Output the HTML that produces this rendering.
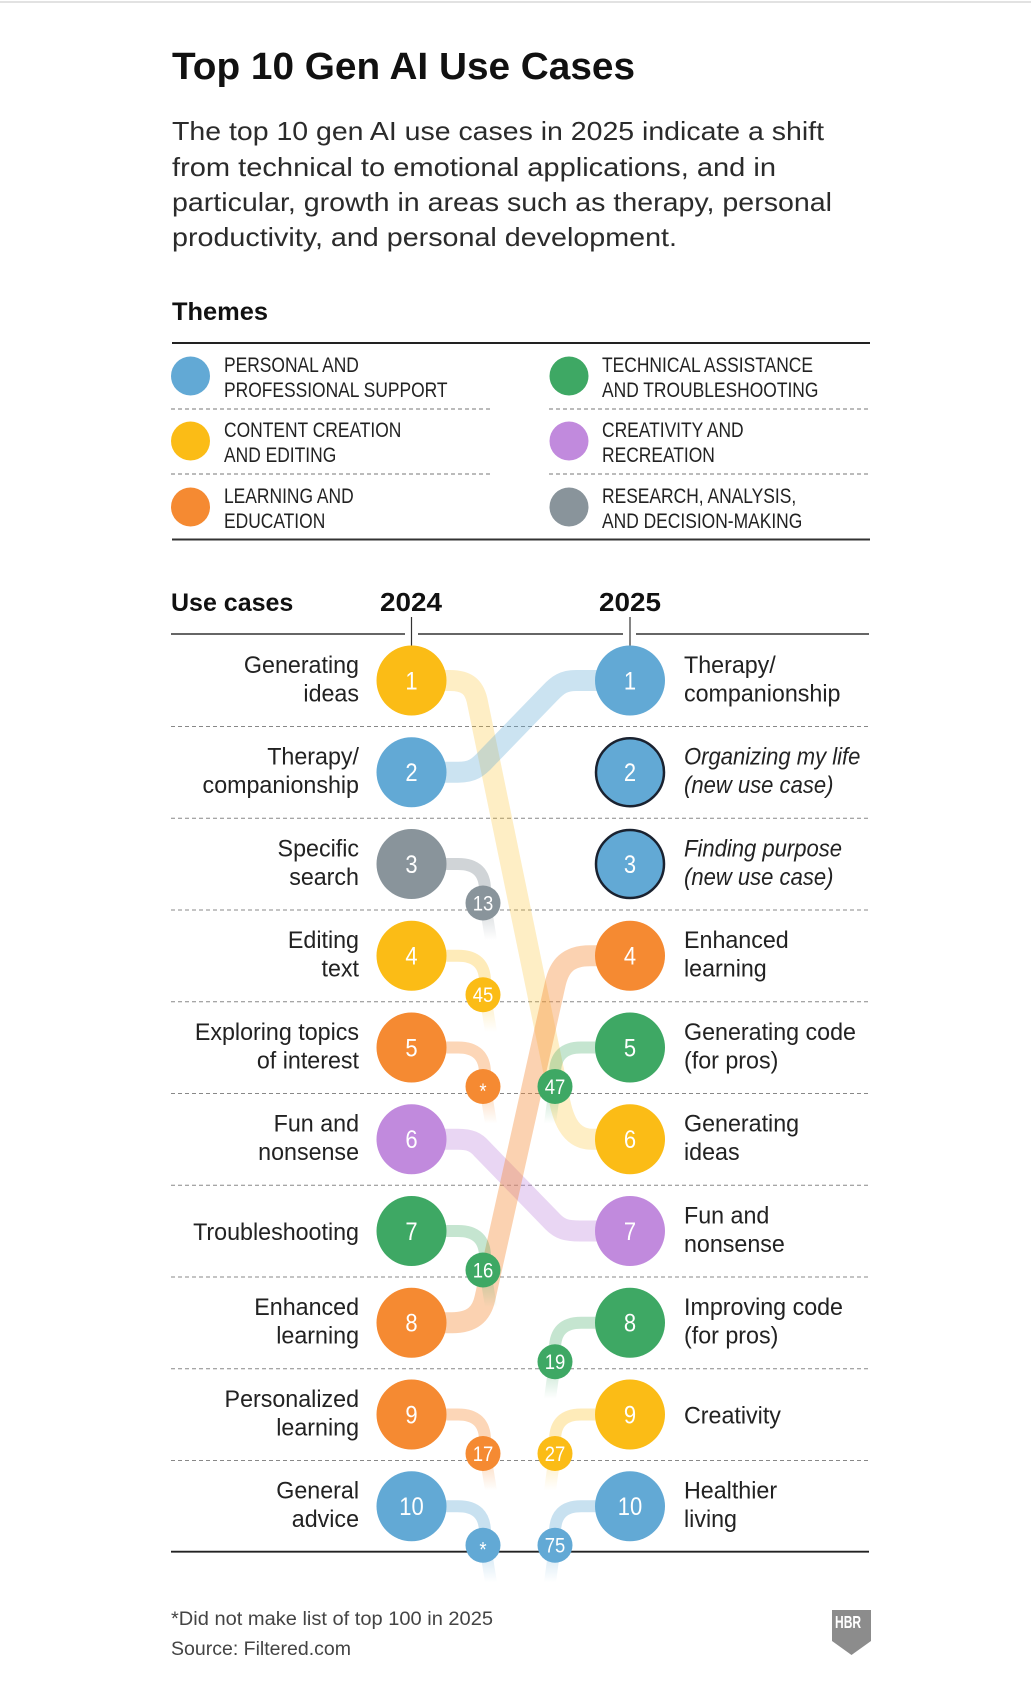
<!DOCTYPE html>
<html><head><meta charset="utf-8">
<style>
html,body{margin:0;padding:0;background:#fff;}
svg{display:block;}
text{font-family:"Liberation Sans",sans-serif;}
</style></head>
<body>
<svg width="1031" height="1686" viewBox="0 0 1031 1686" xmlns="http://www.w3.org/2000/svg">
<defs>
<linearGradient id="tY" x1="0" y1="0" x2="0" y2="1"><stop offset="0" stop-color="#fbbc16" stop-opacity="0.3"/><stop offset="1" stop-color="#fbbc16" stop-opacity="0"/></linearGradient>
<linearGradient id="tB" x1="0" y1="0" x2="0" y2="1"><stop offset="0" stop-color="#62a9d5" stop-opacity="0.35"/><stop offset="1" stop-color="#62a9d5" stop-opacity="0"/></linearGradient>
<linearGradient id="tG" x1="0" y1="0" x2="0" y2="1"><stop offset="0" stop-color="#3ea864" stop-opacity="0.35"/><stop offset="1" stop-color="#3ea864" stop-opacity="0"/></linearGradient>
<linearGradient id="tO" x1="0" y1="0" x2="0" y2="1"><stop offset="0" stop-color="#f58a32" stop-opacity="0.38"/><stop offset="1" stop-color="#f58a32" stop-opacity="0"/></linearGradient>
<linearGradient id="tK" x1="0" y1="0" x2="0" y2="1"><stop offset="0" stop-color="#89949b" stop-opacity="0.4"/><stop offset="1" stop-color="#89949b" stop-opacity="0"/></linearGradient>
</defs>
<rect x="0" y="0" width="1031" height="1686" fill="#fff"/>
<rect x="0" y="1" width="1031" height="2" fill="#e2e2e2"/>

<!-- Title & subtitle -->
<text x="172" y="79" font-size="38" font-weight="bold" fill="#111" textLength="463" lengthAdjust="spacingAndGlyphs">Top 10 Gen AI Use Cases</text>
<g font-size="26" fill="#2b2b2b">
<text x="172" y="140" textLength="652" lengthAdjust="spacingAndGlyphs">The top 10 gen AI use cases in 2025 indicate a shift</text>
<text x="172" y="176" textLength="604" lengthAdjust="spacingAndGlyphs">from technical to emotional applications, and in</text>
<text x="172" y="211" textLength="660" lengthAdjust="spacingAndGlyphs">particular, growth in areas such as therapy, personal</text>
<text x="172" y="246" textLength="505" lengthAdjust="spacingAndGlyphs">productivity, and personal development.</text>
</g>

<!-- Themes -->
<text x="172" y="320" font-size="25" font-weight="bold" fill="#111" textLength="96" lengthAdjust="spacingAndGlyphs">Themes</text>
<line x1="172" y1="343" x2="870" y2="343" stroke="#222" stroke-width="2"/>
<g stroke="#777" stroke-width="1" stroke-dasharray="4 3">
<line x1="171" y1="409" x2="492" y2="409"/><line x1="549" y1="409" x2="870" y2="409"/>
<line x1="171" y1="474" x2="492" y2="474"/><line x1="549" y1="474" x2="870" y2="474"/>
</g>
<line x1="172" y1="539.5" x2="870" y2="539.5" stroke="#333" stroke-width="2"/>
<circle cx="190.5" cy="376" r="19.5" fill="#62a9d5"/>
<circle cx="190.5" cy="441" r="19.5" fill="#fbbc16"/>
<circle cx="190.5" cy="507" r="19.5" fill="#f58a32"/>
<circle cx="569" cy="376" r="19.5" fill="#3ea864"/>
<circle cx="569" cy="441" r="19.5" fill="#c18add"/>
<circle cx="569" cy="507" r="19.5" fill="#89949b"/>
<g transform="translate(224 0) scale(0.83 1)" font-size="21" fill="#222">
<text x="0" y="372">PERSONAL AND</text><text x="0" y="397">PROFESSIONAL SUPPORT</text>
<text x="0" y="437">CONTENT CREATION</text><text x="0" y="462">AND EDITING</text>
<text x="0" y="503">LEARNING AND</text><text x="0" y="528">EDUCATION</text>
</g>
<g transform="translate(602 0) scale(0.83 1)" font-size="21" fill="#222">
<text x="0" y="372">TECHNICAL ASSISTANCE</text><text x="0" y="397">AND TROUBLESHOOTING</text>
<text x="0" y="437">CREATIVITY AND</text><text x="0" y="462">RECREATION</text>
<text x="0" y="503">RESEARCH, ANALYSIS,</text><text x="0" y="528">AND DECISION-MAKING</text>
</g>

<!-- Use cases header -->
<text x="171" y="611" font-size="25" font-weight="bold" fill="#111">Use cases</text>
<text x="411" y="611" font-size="26" font-weight="bold" fill="#111" text-anchor="middle" textLength="62" lengthAdjust="spacingAndGlyphs">2024</text>
<text x="630" y="611" font-size="26" font-weight="bold" fill="#111" text-anchor="middle" textLength="62" lengthAdjust="spacingAndGlyphs">2025</text>
<g stroke="#333" stroke-width="1.6">
<line x1="171" y1="634" x2="405" y2="634"/>
<line x1="418" y1="634" x2="623" y2="634"/>
<line x1="636" y1="634" x2="869" y2="634"/>
</g>
<g stroke="#333" stroke-width="1.2">
<line x1="411.5" y1="617" x2="411.5" y2="646"/>
<line x1="630" y1="617" x2="630" y2="646"/>
</g>

<!-- Row separators -->
<g stroke="#888" stroke-width="1" stroke-dasharray="4 3">
<line x1="171" y1="726.5" x2="869" y2="726.5"/>
<line x1="171" y1="818.25" x2="869" y2="818.25"/>
<line x1="171" y1="910" x2="869" y2="910"/>
<line x1="171" y1="1001.75" x2="869" y2="1001.75"/>
<line x1="171" y1="1093.5" x2="869" y2="1093.5"/>
<line x1="171" y1="1185.25" x2="869" y2="1185.25"/>
<line x1="171" y1="1277" x2="869" y2="1277"/>
<line x1="171" y1="1368.75" x2="869" y2="1368.75"/>
<line x1="171" y1="1460.5" x2="869" y2="1460.5"/>
</g>
<line x1="171" y1="1551.7" x2="869" y2="1551.7" stroke="#222" stroke-width="1.8"/>

<!-- Main connectors -->
<g fill="none" stroke-width="21">
<path d="M411 680.5 H450 C468 680.5 474 688 477 700 L558 1092 C562 1118 570 1139.25 592 1139.25 H630" stroke="#fbbc16" stroke-opacity="0.25"/>
<path d="M411 772.25 H458 C472 772.25 478 768 487 758 L550 693 C558 684.5 564 680.5 576 680.5 H630" stroke="#62a9d5" stroke-opacity="0.33"/>
<path d="M411 1139.25 H458 C470 1139.25 476 1142 482 1149 L553 1222 C560 1229 566 1231 580 1231 H630" stroke="#c18add" stroke-opacity="0.35"/>
<path d="M411 1322.75 H452 C474 1322.75 482 1312 485 1298 L555 985 C559 966 568 955.75 590 955.75 H630" stroke="#f58a32" stroke-opacity="0.38"/>
</g>

<!-- Drop-off connectors (left) -->
<g fill="none" stroke-width="12">
<path d="M411 864 H458 Q485 864 485 890 V903" stroke="#89949b" stroke-opacity="0.4"/>
<path d="M411 955.75 H458 Q485 955.75 485 981.75 V994.75" stroke="#fbbc16" stroke-opacity="0.3"/>
<path d="M411 1047.5 H458 Q485 1047.5 485 1073.5 V1086.5" stroke="#f58a32" stroke-opacity="0.35"/>
<path d="M411 1231 H458 Q485 1231 485 1257 V1270" stroke="#3ea864" stroke-opacity="0.3"/>
<path d="M411 1414.5 H458 Q485 1414.5 485 1440.5 V1453.5" stroke="#f58a32" stroke-opacity="0.35"/>
<path d="M411 1506.25 H458 Q485 1506.25 485 1532.25 V1545.25" stroke="#62a9d5" stroke-opacity="0.35"/>
<!-- right entries -->
<path d="M555 1086.5 V1073.5 Q555 1047.5 581 1047.5 H630" stroke="#3ea864" stroke-opacity="0.3"/>
<path d="M555 1361.75 V1348.75 Q555 1322.75 581 1322.75 H630" stroke="#3ea864" stroke-opacity="0.3"/>
<path d="M555 1453.5 V1440.5 Q555 1414.5 581 1414.5 H630" stroke="#fbbc16" stroke-opacity="0.3"/>
<path d="M555 1545.25 V1532.25 Q555 1506.25 581 1506.25 H630" stroke="#62a9d5" stroke-opacity="0.35"/>
</g>
<!-- tails -->
<polygon points="479,903 491,903 497,940 485,940" fill="url(#tK)"/>
<polygon points="479,994.75 491,994.75 497,1031.75 485,1031.75" fill="url(#tY)"/>
<polygon points="479,1086.5 491,1086.5 497,1123.5 485,1123.5" fill="url(#tO)"/>
<polygon points="479,1270 491,1270 497,1307 485,1307" fill="url(#tG)"/>
<polygon points="479,1453.5 491,1453.5 497,1490.5 485,1490.5" fill="url(#tO)"/>
<polygon points="479,1545.25 491,1545.25 497,1582.25 485,1582.25" fill="url(#tB)"/>
<polygon points="549,1086.5 561,1086.5 556,1123.5 544,1123.5" fill="url(#tG)"/>
<polygon points="549,1361.75 561,1361.75 556,1398.75 544,1398.75" fill="url(#tG)"/>
<polygon points="549,1453.5 561,1453.5 556,1490.5 544,1490.5" fill="url(#tY)"/>
<polygon points="549,1545.25 561,1545.25 556,1582.25 544,1582.25" fill="url(#tB)"/>

<!-- 2024 circles -->
<circle cx="411.5" cy="680.5" r="35" fill="#fbbc16"/>
<circle cx="411.5" cy="772.25" r="35" fill="#62a9d5"/>
<circle cx="411.5" cy="864" r="35" fill="#89949b"/>
<circle cx="411.5" cy="955.75" r="35" fill="#fbbc16"/>
<circle cx="411.5" cy="1047.5" r="35" fill="#f58a32"/>
<circle cx="411.5" cy="1139.25" r="35" fill="#c18add"/>
<circle cx="411.5" cy="1231" r="35" fill="#3ea864"/>
<circle cx="411.5" cy="1322.75" r="35" fill="#f58a32"/>
<circle cx="411.5" cy="1414.5" r="35" fill="#f58a32"/>
<circle cx="411.5" cy="1506.25" r="35" fill="#62a9d5"/>
<!-- 2025 circles -->
<circle cx="630" cy="680.5" r="35" fill="#62a9d5"/>
<circle cx="630" cy="772.25" r="34" fill="#62a9d5" stroke="#1a2230" stroke-width="2.5"/>
<circle cx="630" cy="864" r="34" fill="#62a9d5" stroke="#1a2230" stroke-width="2.5"/>
<circle cx="630" cy="955.75" r="35" fill="#f58a32"/>
<circle cx="630" cy="1047.5" r="35" fill="#3ea864"/>
<circle cx="630" cy="1139.25" r="35" fill="#fbbc16"/>
<circle cx="630" cy="1231" r="35" fill="#c18add"/>
<circle cx="630" cy="1322.75" r="35" fill="#3ea864"/>
<circle cx="630" cy="1414.5" r="35" fill="#fbbc16"/>
<circle cx="630" cy="1506.25" r="35" fill="#62a9d5"/>
<!-- small circles -->
<circle cx="483" cy="903" r="17.5" fill="#89949b"/>
<circle cx="483" cy="994.75" r="17.5" fill="#fbbc16"/>
<circle cx="483" cy="1086.5" r="17.5" fill="#f58a32"/>
<circle cx="483" cy="1270" r="17.5" fill="#3ea864"/>
<circle cx="483" cy="1453.5" r="17.5" fill="#f58a32"/>
<circle cx="483" cy="1545.25" r="17.5" fill="#62a9d5"/>
<circle cx="555" cy="1086.5" r="17.5" fill="#3ea864"/>
<circle cx="555" cy="1361.75" r="17.5" fill="#3ea864"/>
<circle cx="555" cy="1453.5" r="17.5" fill="#fbbc16"/>
<circle cx="555" cy="1545.25" r="17.5" fill="#62a9d5"/>

<!-- numbers in big circles -->
<g font-size="25" fill="#fff" text-anchor="middle">
<g transform="translate(411.5 0) scale(0.88 1)">
<text x="0" y="689.5">1</text><text x="0" y="781.25">2</text><text x="0" y="873">3</text><text x="0" y="964.75">4</text><text x="0" y="1056.5">5</text>
<text x="0" y="1148.25">6</text><text x="0" y="1240">7</text><text x="0" y="1331.75">8</text><text x="0" y="1423.5">9</text><text x="0" y="1515.25">10</text>
</g>
<g transform="translate(630 0) scale(0.88 1)">
<text x="0" y="689.5">1</text><text x="0" y="781.25">2</text><text x="0" y="873">3</text><text x="0" y="964.75">4</text><text x="0" y="1056.5">5</text>
<text x="0" y="1148.25">6</text><text x="0" y="1240">7</text><text x="0" y="1331.75">8</text><text x="0" y="1423.5">9</text><text x="0" y="1515.25">10</text>
</g>
</g>
<!-- numbers in small circles -->
<g font-size="21" fill="#fff" text-anchor="middle">
<g transform="translate(483 0) scale(0.88 1)">
<text x="0" y="910.5">13</text><text x="0" y="1002.25">45</text><text x="0" y="1098">*</text>
<text x="0" y="1277.5">16</text><text x="0" y="1461">17</text><text x="0" y="1556.75">*</text>
</g>
<g transform="translate(555 0) scale(0.88 1)">
<text x="0" y="1094">47</text><text x="0" y="1369.25">19</text><text x="0" y="1461">27</text><text x="0" y="1552.75">75</text>
</g>
</g>

<!-- Left labels -->
<g transform="translate(359 0) scale(0.95 1)" font-size="24.5" fill="#222" text-anchor="end">
<text x="0" y="673">Generating</text><text x="0" y="701.5">ideas</text>
<text x="0" y="764.75">Therapy/</text><text x="0" y="793.25">companionship</text>
<text x="0" y="856.5">Specific</text><text x="0" y="885">search</text>
<text x="0" y="948.25">Editing</text><text x="0" y="976.75">text</text>
<text x="0" y="1040">Exploring topics</text><text x="0" y="1068.5">of interest</text>
<text x="0" y="1131.75">Fun and</text><text x="0" y="1160.25">nonsense</text>
<text x="0" y="1240">Troubleshooting</text>
<text x="0" y="1315.25">Enhanced</text><text x="0" y="1343.75">learning</text>
<text x="0" y="1407">Personalized</text><text x="0" y="1435.5">learning</text>
<text x="0" y="1498.75">General</text><text x="0" y="1527.25">advice</text>
</g>
<!-- Right labels -->
<g transform="translate(684 0) scale(0.95 1)" font-size="24.5" fill="#222">
<text x="0" y="673">Therapy/</text><text x="0" y="701.5">companionship</text>
<text x="0" y="948.25">Enhanced</text><text x="0" y="976.75">learning</text>
<text x="0" y="1040">Generating code</text><text x="0" y="1068.5">(for pros)</text>
<text x="0" y="1131.75">Generating</text><text x="0" y="1160.25">ideas</text>
<text x="0" y="1223.5">Fun and</text><text x="0" y="1252">nonsense</text>
<text x="0" y="1315.25">Improving code</text><text x="0" y="1343.75">(for pros)</text>
<text x="0" y="1423.5">Creativity</text>
<text x="0" y="1498.75">Healthier</text><text x="0" y="1527.25">living</text>
</g>
<g transform="translate(684 0) scale(0.9 1)" font-size="24.5" fill="#222" font-style="italic">
<text x="0" y="764.75">Organizing my life</text><text x="0" y="793.25">(new use case)</text>
<text x="0" y="856.5">Finding purpose</text><text x="0" y="885">(new use case)</text>
</g>

<!-- Footer -->
<text x="171" y="1625" font-size="19" fill="#444" textLength="322" lengthAdjust="spacingAndGlyphs">*Did not make list of top 100 in 2025</text>
<text x="171" y="1655" font-size="19" fill="#444" textLength="180" lengthAdjust="spacingAndGlyphs">Source: Filtered.com</text>
<path d="M832 1610 H871 V1641 L851.5 1655 L832 1641 Z" fill="#8c8c8c"/>
<g transform="translate(835 1628) scale(0.67 1)"><text x="0" y="0" font-size="18" font-weight="bold" fill="#fff">HBR</text></g>
</svg>
</body></html>
